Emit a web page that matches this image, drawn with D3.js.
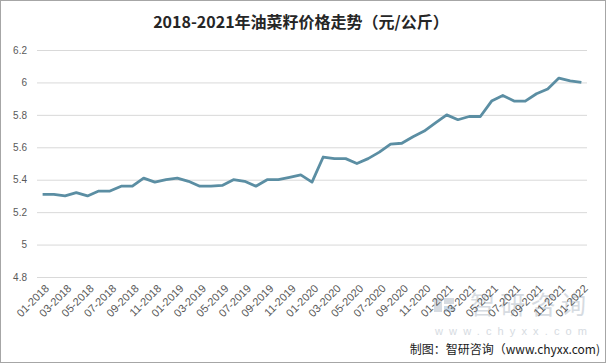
<!DOCTYPE html>
<html>
<head>
<meta charset="utf-8">
<script src="https://cdn.jsdelivr.net/npm/d3@7"></script>
<style>
  body { margin: 0; background: #fff; }
  svg { display: block; }
</style>
</head>
<body>
<svg id="chart" width="606" height="363"></svg>
<script>
// months 01-2018 .. 01-2022
const months = [];
for (let yr = 2018; yr <= 2022; yr++) {
  for (let m = 1; m <= 12; m++) {
    if (yr === 2022 && m > 1) break;
    months.push(String(m).padStart(2, "0") + "-" + yr);
  }
}

// price, yuan/kg
const prices = [
  5.31, 5.31, 5.30, 5.32, 5.30, 5.33, 5.33, 5.36, 5.36, 5.41, 5.385, 5.40,
  5.41, 5.39, 5.36, 5.36, 5.365, 5.40, 5.39, 5.36, 5.40, 5.40, 5.415, 5.43,
  5.385, 5.54, 5.53, 5.53, 5.50, 5.53, 5.57, 5.62, 5.625, 5.665, 5.70, 5.75,
  5.80, 5.77, 5.79, 5.79, 5.885, 5.92, 5.885, 5.885, 5.93, 5.96, 6.027, 6.01,
  6.00
];

const yTicks = [4.8, 5, 5.2, 5.4, 5.6, 5.8, 6, 6.2];

const data = months.map((m, i) => ({ month: m, price: prices[i] }));

const svg = d3.select("svg#chart");
const W = 606, H = 363;

// outer frame
svg.append("rect")
  .attr("x", 0.5).attr("y", 0.5)
  .attr("width", W - 1).attr("height", H - 1)
  .attr("fill", "#fff")
  .attr("stroke", "#a6a6a6");

const plotL = 37, plotR = 587, plotT = 50, plotB = 277;

const x = d3.scaleBand()
  .domain(months)
  .range([plotL, plotR]);

const y = d3.scaleLinear()
  .domain([4.8, 6.2])
  .range([plotB, plotT]);

// title
svg.append("text")
  .attr("x", 301).attr("y", 28)
  .attr("text-anchor", "middle")
  .attr("font-family", "'Noto Sans CJK SC', sans-serif")
  .attr("font-weight", "bold")
  .attr("font-size", 16)
  .attr("fill", "#262626")
  .text("2018-2021年油菜籽价格走势（元/公斤）");

// gridlines + y labels
const yAxis = svg.append("g")
  .attr("transform", `translate(${plotL},0)`)
  .call(d3.axisLeft(y).tickValues(yTicks).tickSize(-(plotR - plotL)).tickFormat(d3.format("")));
yAxis.select(".domain").remove();
yAxis.selectAll(".tick line").attr("stroke", "#d9d9d9");
yAxis.selectAll(".tick text")
  .attr("x", -10)
  .attr("fill", "#595959")
  .attr("font-family", "'Liberation Sans', Arial, sans-serif")
  .attr("font-size", 10);

// watermark (sits behind the x labels, as in the source image)
const wm = svg.append("g").attr("fill", "#cdd3da").attr("opacity", 0.8);
wm.append("rect").attr("x", 434).attr("y", 298).attr("width", 8).attr("height", 14);
wm.append("rect").attr("x", 444).attr("y", 298).attr("width", 10).attr("height", 6);
wm.append("rect").attr("x", 444).attr("y", 306).attr("width", 10).attr("height", 6).attr("fill", "#bfd3e6");
wm.append("text")
  .attr("x", 470).attr("y", 314)
  .attr("font-family", "'Noto Sans CJK SC', sans-serif")
  .attr("font-size", 25)
  .attr("textLength", 116)
  .text("智研咨询");
wm.append("text")
  .attr("x", 435).attr("y", 335)
  .attr("font-family", "'Liberation Sans', Arial, sans-serif")
  .attr("font-size", 11)
  .attr("textLength", 152)
  .text("www.chyxx.com");

// x labels, every other month
const xAxis = svg.append("g")
  .attr("transform", `translate(0,${plotB})`)
  .call(d3.axisBottom(x).tickValues(months.filter((d, i) => i % 2 === 0)).tickSize(0));
xAxis.select(".domain").remove();
xAxis.selectAll(".tick text")
  .attr("text-anchor", "end")
  .attr("dx", "0")
  .attr("dy", "0")
  .attr("transform", "translate(5,10) rotate(-45)")
  .attr("fill", "#595959")
  .attr("font-family", "'Liberation Sans', Arial, sans-serif")
  .attr("font-size", 11);

// line
const line = d3.line()
  .x(d => x(d.month) + x.bandwidth() / 2)
  .y(d => y(d.price));

svg.append("path")
  .datum(data)
  .attr("fill", "none")
  .attr("stroke", "#5b8ea3")
  .attr("stroke-width", 2.8)
  .attr("stroke-linejoin", "round")
  .attr("d", line);

// source
svg.append("text")
  .attr("x", 600).attr("y", 354)
  .attr("text-anchor", "end")
  .attr("font-family", "'Noto Sans CJK SC', sans-serif")
  .attr("font-size", 12)
  .attr("fill", "#1a1a1a")
  .text("制图：智研咨询（www.chyxx.com)");
</script>
</body>
</html>
